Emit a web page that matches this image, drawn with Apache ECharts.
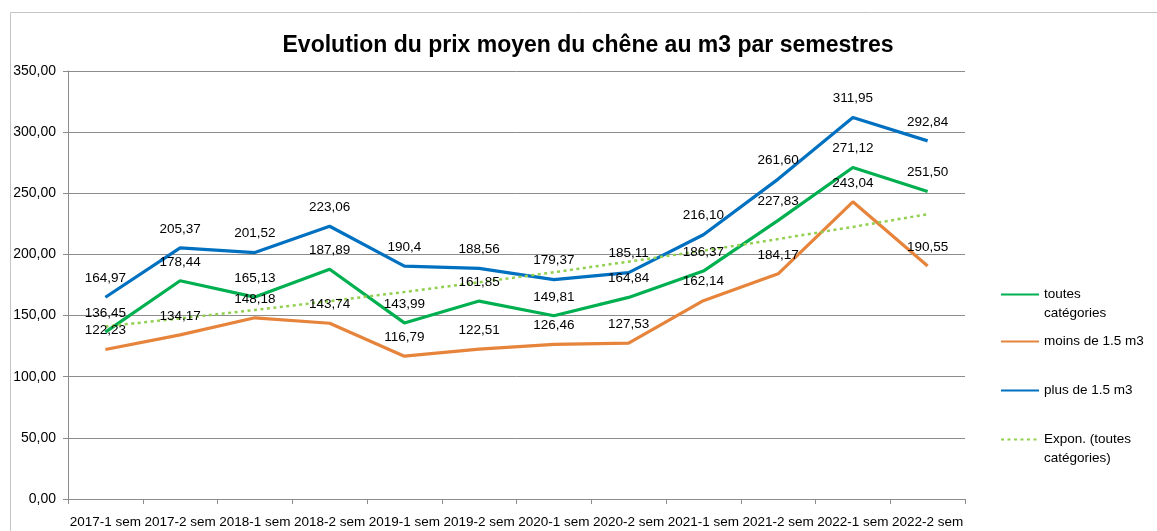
<!DOCTYPE html>
<html lang="fr">
<head>
<meta charset="UTF-8" />
<script src="https://cdn.jsdelivr.net/npm/echarts@6.0.0/dist/echarts.min.js"></script>
<title>Evolution du prix moyen du chêne</title>
<style>
  body { margin: 0; background: #fff; }
  #container { width: 1157px; height: 531px; }
</style>
</head>
<body>
<div id="container"></div>
<script>
  // semesters on the x axis
  const semesters = [
    '2017-1 sem', '2017-2 sem', '2018-1 sem', '2018-2 sem', '2019-1 sem', '2019-2 sem',
    '2020-1 sem', '2020-2 sem', '2021-1 sem', '2021-2 sem', '2022-1 sem', '2022-2 sem'
  ];
  // prices kept as text so the labels keep their decimals (190,4 vs 216,10)
  const toutes = ['136.45', '178.44', '165.13', '187.89', '143.99', '161.85',
                  '149.81', '164.84', '186.37', '227.83', '271.12', '251.50'];
  const moins = ['122.23', '134.17', '148.18', '143.74', '116.79', '122.51',
                 '126.46', '127.53', '162.14', '184.17', '243.04', '190.55'];
  const plus = ['164.97', '205.37', '201.52', '223.06', '190.4', '188.56',
                '179.37', '185.11', '216.10', '261.60', '311.95', '292.84'];
  // exponential trendline
  const trend = [141.1, 147.7, 154.6, 161.8, 169.3, 177.2, 185.4, 194.1, 203.1, 212.6, 222.5, 232.9];

  const font = "'Liberation Sans', Arial, sans-serif";
  const gridColor = '#8c8c8c';

  // blank first line so the icon sits next to the first line of text
  const legendText = {
    'toutes catégories': ' \ntoutes\ncatégories',
    'Expon. (toutes catégories)': ' \nExpon. (toutes\ncatégories)'
  };

  function lineSeries(name, data, color) {
    return {
      name: name,
      type: 'line',
      data: data,
      symbol: 'circle',
      symbolSize: 0,
      showSymbol: true,
      lineStyle: { color: color, width: 3.2 },
      itemStyle: { color: color },
      label: {
        show: true,
        position: 'top',
        distance: 12,
        fontSize: 13.5,
        fontFamily: font,
        color: '#000',
        formatter: (p) => String(p.data).replace('.', ',')
      }
    };
  }

  const legendBase = {
    orient: 'vertical',
    left: 1000,
    padding: 0,
    itemWidth: 38,
    itemHeight: 14,
    selectedMode: false,
    itemStyle: { opacity: 0 },
    formatter: (n) => legendText[n] || n,
    textStyle: { fontSize: 13.5, lineHeight: 19, color: '#000', fontFamily: font }
  };

  const chart = echarts.init(document.getElementById('container'), null, { renderer: 'canvas' });

  const option = {
    animation: false,
    backgroundColor: '#fff',
    title: {
      text: 'Evolution du prix moyen du chêne au m3 par semestres',
      left: 583,
      textAlign: 'center',
      top: 29,
      textStyle: { fontSize: 23, fontWeight: 'bold', color: '#000', fontFamily: font }
    },
    graphic: [{
      type: 'polyline',
      silent: true,
      shape: { points: [[10.5, 531], [10.5, 12.5], [1157, 12.5]] },
      style: { stroke: '#c4c4c4', fill: null, lineWidth: 1 }
    }],
    legend: [
      Object.assign({}, legendBase, { top: 266, data: ['toutes catégories'] }),
      Object.assign({}, legendBase, { top: 332, data: ['moins de 1.5 m3'] }),
      Object.assign({}, legendBase, { top: 381, data: ['plus de 1.5 m3'] }),
      Object.assign({}, legendBase, { top: 411, data: ['Expon. (toutes catégories)'] })
    ],
    grid: { left: 68, right: 192, top: 71, bottom: 32, outerBoundsMode: 'none' },
    xAxis: {
      type: 'category',
      data: semesters,
      boundaryGap: true,
      axisLine: { lineStyle: { color: gridColor } },
      axisTick: { show: true, length: 5, lineStyle: { color: gridColor } },
      axisLabel: { interval: 0, fontSize: 13.5, color: '#000', fontFamily: font, margin: 16 }
    },
    yAxis: {
      type: 'value',
      min: 0,
      max: 350,
      interval: 50,
      axisLine: { show: true, lineStyle: { color: gridColor } },
      axisTick: { show: true, length: 5, lineStyle: { color: gridColor } },
      splitLine: { lineStyle: { color: gridColor } },
      axisLabel: {
        fontSize: 14, color: '#000', fontFamily: font, margin: 12,
        formatter: (v) => v.toFixed(2).replace('.', ',')
      }
    },
    series: [
      lineSeries('toutes catégories', toutes, '#00b050'),
      lineSeries('moins de 1.5 m3', moins, '#e6843c'),
      lineSeries('plus de 1.5 m3', plus, '#0070c0'),
      {
        name: 'Expon. (toutes catégories)',
        type: 'line',
        data: trend,
        symbol: 'none',
        lineStyle: { color: '#92d050', width: 2.5, type: [3, 3.5] },
        itemStyle: { color: '#92d050' }
      }
    ]
  };

  chart.setOption(option);
  window.addEventListener('resize', chart.resize);
</script>
</body>
</html>
